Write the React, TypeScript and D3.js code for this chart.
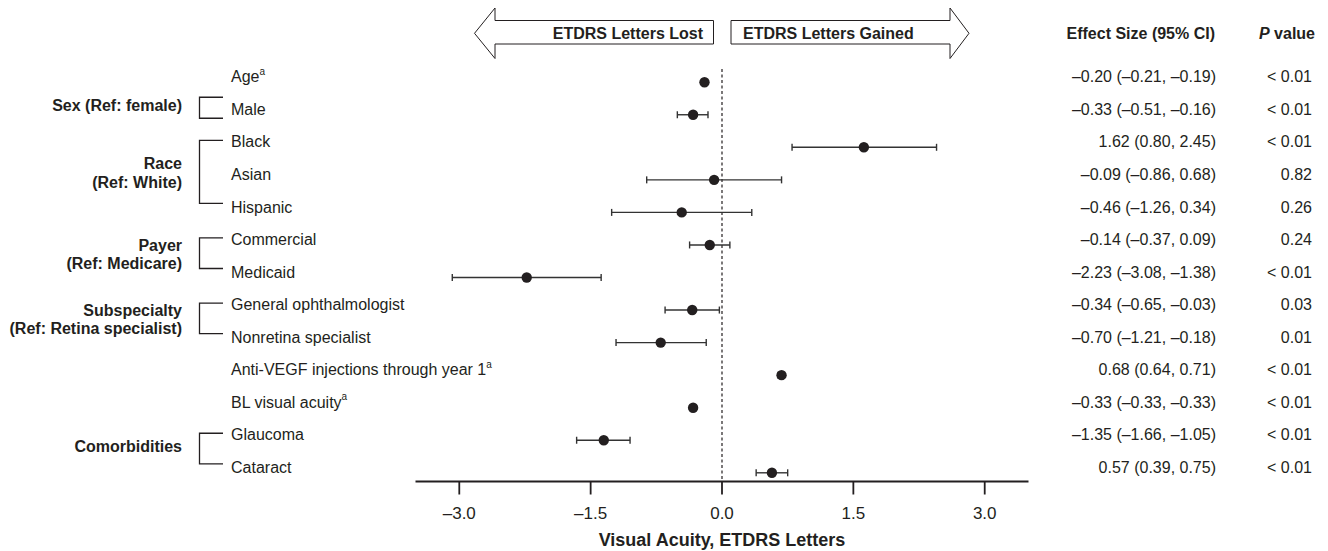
import React from "react";
import * as d3 from "d3";

// Row labels of the forest plot, top to bottom
const rowLabels = [
  "Age",
  "Male",
  "Black",
  "Asian",
  "Hispanic",
  "Commercial",
  "Medicaid",
  "General ophthalmologist",
  "Nonretina specialist",
  "Anti-VEGF injections through year 1",
  "BL visual acuity",
  "Glaucoma",
  "Cataract",
];
// Rows that carry footnote "a" (continuous covariates)
const footnoteRows = [true, false, false, false, false, false, false, false, false, true, true, false, false];

// Effect sizes (ETDRS letters) with 95% confidence limits
const estimates = [-0.2, -0.33, 1.62, -0.09, -0.46, -0.14, -2.23, -0.34, -0.7, 0.68, -0.33, -1.35, 0.57];
const lowerCI = [-0.21, -0.51, 0.8, -0.86, -1.26, -0.37, -3.08, -0.65, -1.21, 0.64, -0.33, -1.66, 0.39];
const upperCI = [-0.19, -0.16, 2.45, 0.68, 0.34, 0.09, -1.38, -0.03, -0.18, 0.71, -0.33, -1.05, 0.75];
const pValues = ["< 0.01", "< 0.01", "< 0.01", "0.82", "0.26", "0.24", "< 0.01", "0.03", "0.01", "< 0.01", "< 0.01", "< 0.01", "< 0.01"];

const xTicks = [-3, -1.5, 0, 1.5, 3];

// Covariate groups with their reference categories
const groupLabels = [["Sex (Ref: female)"], ["Race", "(Ref: White)"], ["Payer", "(Ref: Medicare)"], ["Subspecialty", "(Ref: Retina specialist)"], ["Comorbidities"]];
const groupFirstRow = [1, 2, 5, 7, 11];
const groupLastRow = [1, 4, 6, 8, 12];

const W = 1328;
const H = 551;
const FONT = "'Liberation Sans', Arial, Helvetica, sans-serif";
const INK = "#231f20";

const dash = (s: string) => s.replace(/[-\u2212]/g, "\u2013");
const f2 = (v: number) => dash(d3.format(".2f")(v));
const f1 = (v: number) => dash(d3.format(".1f")(v));

export default function App() {
  const x = d3.scaleLinear().domain([-3.5, 3.5]).range([415.5, 1028.5]);
  const yText = d3.scaleLinear().domain([0, rowLabels.length - 1]).range([76.7, 467.3]);
  const yDot = (i: number) => yText(i) + 5.5;
  const axisY = 481.5;
  const x0 = x(0);

  // Direction arrows above the plot
  const shaftTop = 20.5;
  const shaftBot = 44;
  const headTop = 8;
  const headBot = 58.5;
  const midY = 33.3;
  const leftArrow = [
    [x0 - 8.5, shaftTop],
    [x0 - 227, shaftTop],
    [x0 - 227, headTop],
    [x0 - 247.5, midY],
    [x0 - 227, headBot],
    [x0 - 227, shaftBot],
    [x0 - 8.5, shaftBot],
  ];
  const rightArrow = [
    [x0 + 9, shaftTop],
    [x0 + 228, shaftTop],
    [x0 + 228, headTop],
    [x0 + 247, midY],
    [x0 + 228, headBot],
    [x0 + 228, shaftBot],
    [x0 + 9, shaftBot],
  ];
  const poly = (pts: number[][]) => pts.map((p) => p.join(",")).join(" ");

  const capH = 3.5;

  return (
    <svg
      width={W}
      height={H}
      style={{ position: "absolute", left: 0, top: 0, background: "#fff" }}
      fontFamily={FONT}
    >
      <rect width={W} height={H} fill="#fff" />

      {/* direction arrows */}
      <polygon points={poly(leftArrow)} fill="#fff" stroke={INK} strokeWidth={1} />
      <polygon points={poly(rightArrow)} fill="#fff" stroke={INK} strokeWidth={1} />
      <text x={x0 - 19} y={midY} dy="0.35em" textAnchor="end" fontSize={16} fontWeight="bold" fill={INK}>
        ETDRS Letters Lost
      </text>
      <text x={x0 + 21} y={midY} dy="0.35em" textAnchor="start" fontSize={16} fontWeight="bold" fill={INK}>
        ETDRS Letters Gained
      </text>

      {/* column headers */}
      <text x={1215} y={midY} dy="0.35em" textAnchor="end" fontSize={16} fontWeight="bold" fill={INK}>
        Effect Size (95% CI)
      </text>
      <text x={1315} y={midY} dy="0.35em" textAnchor="end" fontSize={16} fontWeight="bold" fill={INK}>
        <tspan fontStyle="italic">P</tspan> value
      </text>

      {/* reference line at zero */}
      <line x1={x0} x2={x0} y1={69} y2={axisY} stroke={INK} strokeWidth={1.2} strokeDasharray="3,2.5" />

      {/* group brackets and labels */}
      {groupLabels.map((lines, g) => {
        const single = groupFirstRow[g] === groupLastRow[g];
        const top = single ? yText(groupFirstRow[g]) - 12 : yText(groupFirstRow[g]) - 1.5;
        const bot = single ? yText(groupLastRow[g]) + 9 : yText(groupLastRow[g]) - 3.5;
        const mid = (top + bot) / 2;
        const lh = 18.5;
        return (
          <g key={g}>
            <path
              d={`M223,${top}H199.5V${bot}H223`}
              fill="none"
              stroke={INK}
              strokeWidth={1.3}
            />
            {lines.map((ln, k) => (
              <text
                key={k}
                x={182}
                y={mid + (k - (lines.length - 1) / 2) * lh + (lines.length > 1 ? 1 : -2)}
                dy="0.35em"
                textAnchor="end"
                fontSize={16}
                fontWeight="bold"
                fill={INK}
              >
                {ln}
              </text>
            ))}
          </g>
        );
      })}

      {/* row labels, estimates and p values */}
      {rowLabels.map((lab, i) => (
        <g key={lab}>
          <text x={231} y={yText(i)} dy="0.35em" fontSize={16} fill={INK}>
            {lab}
            {footnoteRows[i] ? (
              <tspan fontSize={10} dy="-0.75em">
                a
              </tspan>
            ) : null}
          </text>
          <text x={1216} y={yText(i)} dy="0.35em" textAnchor="end" fontSize={16} fill={INK}>
            {`${f2(estimates[i])} (${f2(lowerCI[i])}, ${f2(upperCI[i])})`}
          </text>
          <text x={1312} y={yText(i)} dy="0.35em" textAnchor="end" fontSize={16} fill={INK}>
            {pValues[i]}
          </text>
        </g>
      ))}

      {/* confidence intervals and point estimates */}
      {estimates.map((v, i) => {
        const cy = yDot(i);
        return (
          <g key={i} stroke="#333" strokeWidth={1.4}>
            <line x1={x(lowerCI[i])} x2={x(upperCI[i])} y1={cy} y2={cy} />
            <line x1={x(lowerCI[i])} x2={x(lowerCI[i])} y1={cy - capH} y2={cy + capH} />
            <line x1={x(upperCI[i])} x2={x(upperCI[i])} y1={cy - capH} y2={cy + capH} />
            <circle cx={x(v)} cy={cy} r={5.2} fill={INK} stroke="none" />
          </g>
        );
      })}

      {/* x axis */}
      <line x1={x.range()[0]} x2={x.range()[1]} y1={axisY} y2={axisY} stroke={INK} strokeWidth={2} />
      {xTicks.map((t) => (
        <g key={t}>
          <line x1={x(t)} x2={x(t)} y1={axisY} y2={axisY + 13} stroke={INK} strokeWidth={1.8} />
          <text x={x(t)} y={513} dy="0.35em" textAnchor="middle" fontSize={17} fill={INK}>
            {f1(t)}
          </text>
        </g>
      ))}
      <text x={x0} y={540} dy="0.35em" textAnchor="middle" fontSize={18} fontWeight="bold" fill={INK}>
        Visual Acuity, ETDRS Letters
      </text>
    </svg>
  );
}
